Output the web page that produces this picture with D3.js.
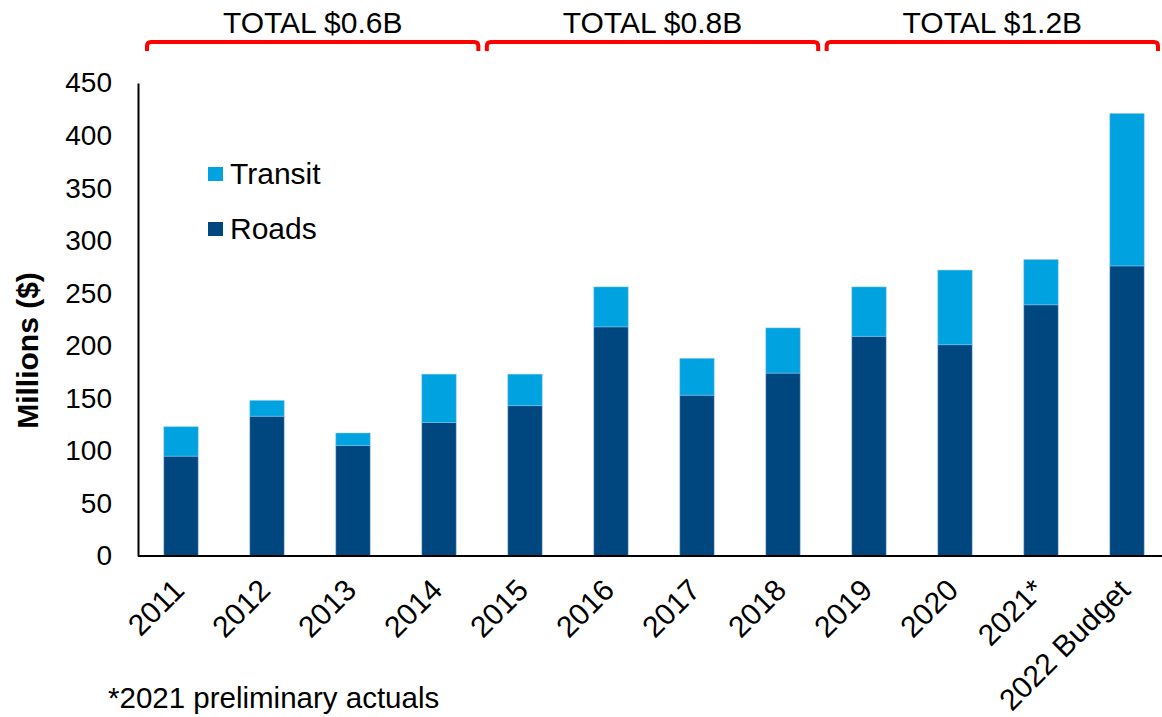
<!DOCTYPE html>
<html>
<head>
<meta charset="utf-8">
<script src="https://cdn.jsdelivr.net/npm/d3@7"></script>
<style>
  body { margin: 0; background: #fff; }
  svg { font-family: "Liberation Sans", Arial, sans-serif; }
</style>
</head>
<body>
<svg id="drawing_region"></svg>
<script>
// chart data
const years = ['2011', '2012', '2013', '2014', '2015', '2016', '2017', '2018', '2019', '2020', '2021*', '2022 Budget'];
const roads = [95, 133, 105, 127, 143, 218, 153, 174, 209, 201, 239, 276];
const transit = [28, 15, 12, 46, 30, 38, 35, 43, 47, 71, 43, 145];
const yTicks = [0, 50, 100, 150, 200, 250, 300, 350, 400, 450];
const groupLabels = ['TOTAL $0.6B', 'TOTAL $0.8B', 'TOTAL $1.2B'];
const seriesNames = ['Transit', 'Roads'];

const config = {
    width: 1162,
    height: 717,
    left: 138,
    right: 1170,
    top: 83,
    bottom: 556
};
const colors = { Roads: '#00467f', Transit: '#00a3e0' };
const fontSize = 30;

const svg = d3.select('#drawing_region')
    .attr('width', config.width)
    .attr('height', config.height);

const xscale = d3.scaleBand()
    .domain(years)
    .range([config.left, config.right])
    .paddingInner(0.6)
    .paddingOuter(0.3);

const yscale = d3.scaleLinear()
    .domain([0, 450])
    .range([config.bottom, config.top]);

// brackets over the three 4-year periods
const gscale = d3.scaleBand()
    .domain(groupLabels)
    .range([147, 1158])
    .paddingInner(0.025);

const table = years.map((y, i) => ({ year: y, Roads: roads[i], Transit: transit[i] }));
const stacked = d3.stack().keys(['Roads', 'Transit'])(table);

// bars
svg.append('g')
    .selectAll('g')
    .data(stacked)
    .join('g')
    .attr('fill', d => colors[d.key])
    .selectAll('rect')
    .data(d => d)
    .join('rect')
    .attr('x', d => xscale(d.data.year))
    .attr('y', d => yscale(d[1]))
    .attr('width', xscale.bandwidth())
    .attr('height', d => yscale(d[0]) - yscale(d[1]))
    .attr('stroke', '#8cc4e8')
    .attr('stroke-width', 0.8)
    .attr('stroke-opacity', 0.6);

// y axis
const yaxis = d3.axisLeft(yscale)
    .tickValues(yTicks)
    .tickSize(0)
    .tickPadding(26);

const yaxis_group = svg.append('g')
    .attr('transform', `translate(${config.left}, 0)`)
    .call(yaxis);
yaxis_group.select('.domain').attr('stroke', '#000').attr('stroke-width', 2);
yaxis_group.selectAll('text')
    .attr('font-size', 28)
    .attr('font-family', '"Liberation Sans", Arial, sans-serif')
    .attr('fill', '#000');

// x axis
const xaxis = d3.axisBottom(xscale).tickSize(0).tickSizeOuter(0);
const xaxis_group = svg.append('g')
    .attr('transform', `translate(0, ${config.bottom})`)
    .call(xaxis);
xaxis_group.select('.domain')
    .attr('d', `M${config.left},0H${config.width}`)
    .attr('stroke', '#000')
    .attr('stroke-width', 2);
xaxis_group.selectAll('text')
    .attr('font-size', fontSize)
    .attr('font-family', '"Liberation Sans", Arial, sans-serif')
    .attr('fill', '#000')
    .attr('text-anchor', 'end')
    .attr('dy', 0)
    .attr('y', 0)
    .attr('transform', 'translate(5, 36) rotate(-45)');

// y axis title
svg.append('text')
    .attr('transform', `translate(38, ${(config.top + config.bottom) / 2 + 31}) rotate(-90)`)
    .attr('text-anchor', 'middle')
    .attr('font-size', fontSize)
    .attr('font-weight', 'bold')
    .text('Millions ($)');

// group brackets
const brackets = svg.append('g');
groupLabels.forEach(label => {
    const x0 = gscale(label), x1 = x0 + gscale.bandwidth();
    const yTop = 42, yEnd = 51, r = 4;
    brackets.append('path')
        .attr('d', `M${x0},${yEnd}V${yTop + r}Q${x0},${yTop} ${x0 + r},${yTop}H${x1 - r}Q${x1},${yTop} ${x1},${yTop + r}V${yEnd}`)
        .attr('fill', 'none')
        .attr('stroke', '#ff0000')
        .attr('stroke-width', 4);
    brackets.append('text')
        .attr('x', (x0 + x1) / 2)
        .attr('y', 33)
        .attr('text-anchor', 'middle')
        .attr('font-size', fontSize)
        .text(label);
});

// legend
const legend = svg.append('g').attr('transform', 'translate(208, 167)');
seriesNames.forEach((name, i) => {
    const g = legend.append('g').attr('transform', `translate(0, ${i * 55})`);
    g.append('rect')
        .attr('width', 15)
        .attr('height', 14)
        .attr('fill', colors[name]);
    g.append('text')
        .attr('x', 22)
        .attr('y', 17)
        .attr('font-size', fontSize)
        .text(name);
});

// footnote
svg.append('text')
    .attr('x', 108)
    .attr('y', 708)
    .attr('font-size', 29.5)
    .text('*2021 preliminary actuals');
</script>
</body>
</html>
